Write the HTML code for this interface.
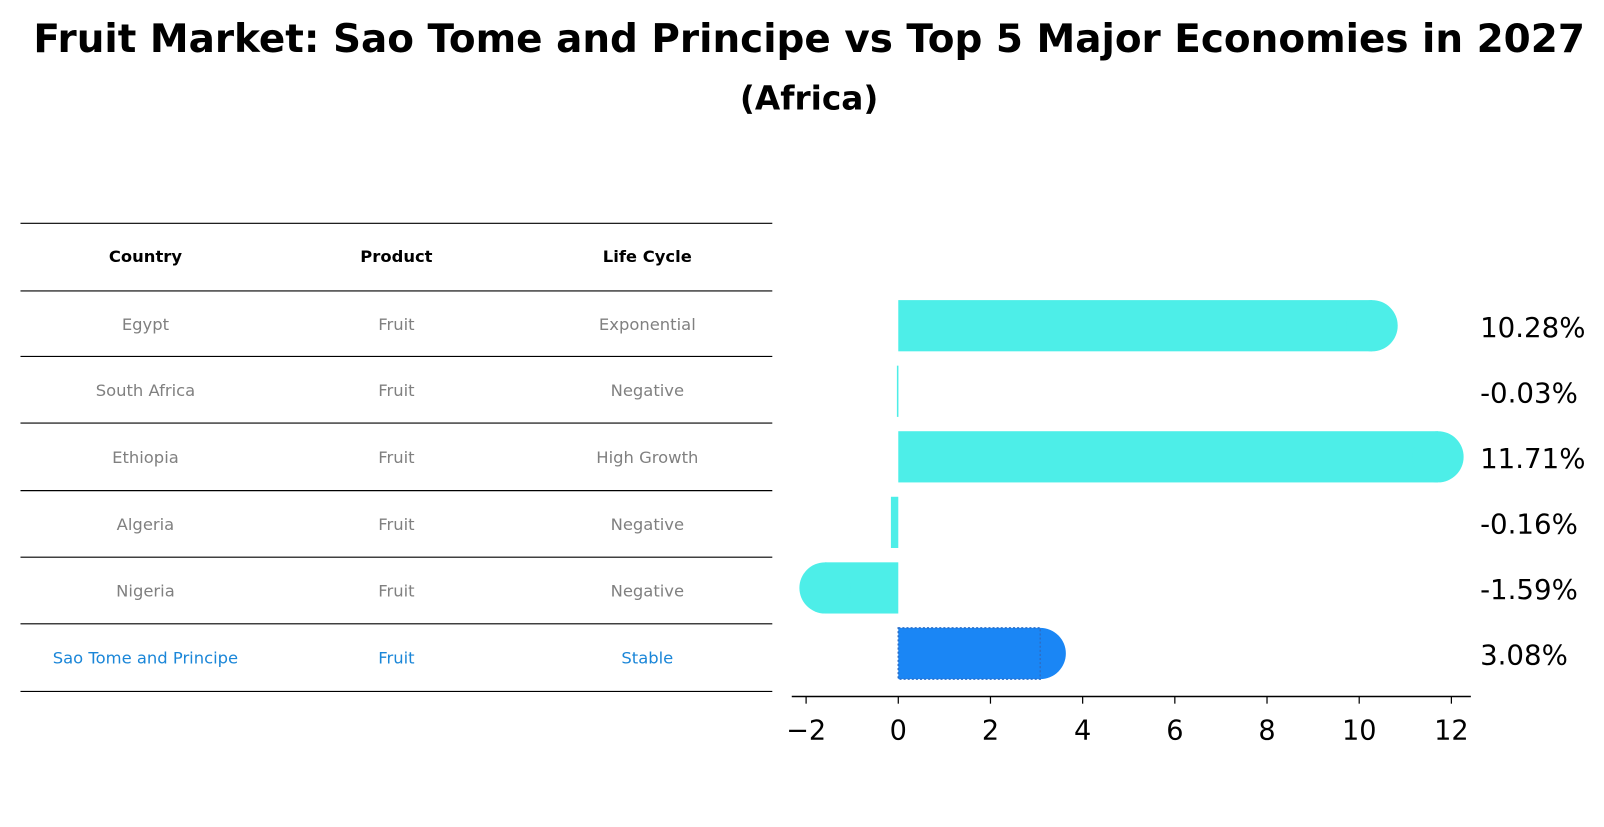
<!DOCTYPE html>
<html><head><meta charset="utf-8"><style>
body{margin:0;background:#fff;width:1604px;height:823px;overflow:hidden;font-family:"DejaVu Sans","Liberation Sans",sans-serif}
</style></head><body>
<svg width="1604" height="823" viewBox="0 0 1566 803.5" xmlns="http://www.w3.org/2000/svg" font-family="DejaVu Sans, Liberation Sans, sans-serif">
<text x="790" y="51" text-anchor="middle" font-size="38" font-weight="bold">Fruit Market: Sao Tome and Principe vs Top 5 Major Economies in 2027</text>
<text x="790" y="107" text-anchor="middle" font-size="32" font-weight="bold">(Africa)</text>
<g id="table"></g>
<g id="chart"></g>
</svg>
<script>
const countries=["Egypt","South Africa","Ethiopia","Algeria","Nigeria","Sao Tome and Principe"];
const products=["Fruit","Fruit","Fruit","Fruit","Fruit","Fruit"];
const lifeCycles=["Exponential","Negative","High Growth","Negative","Negative","Stable"];
const values=[10.28,-0.03,11.71,-0.16,-1.59,3.08];
const ticks=[-2,0,2,4,6,8,10,12];
const NS="http://www.w3.org/2000/svg";
function mk(tag,attrs,parent,text){const e=document.createElementNS(NS,tag);for(const k in attrs)e.setAttribute(k,attrs[k]);if(text!==undefined)e.textContent=text;parent.appendChild(e);return e;}
// table
const tg=document.getElementById('table');
const lines=[218,284,348,413,479,544,609,675];
lines.forEach(y=>{const l=mk('line',{x1:20,x2:754,y1:y,y2:y,stroke:'#000','stroke-width':1.1},tg);

});
const colX=[142,387,632];
["Country","Product","Life Cycle"].forEach((h,i)=>{const t=mk('text',{x:colX[i],y:256,'text-anchor':'middle','font-size':16,'font-weight':'bold'},tg,h);

});
countries.forEach((c,r)=>{const y=(lines[r+1]+lines[r+2])/2+6;const col=r===5?'#1a86d8':'#808080';
[c,products[r],lifeCycles[r]].forEach((v,i)=>{const t=mk('text',{x:colX[i],y:y,'text-anchor':'middle','font-size':16,fill:col},tg,v);

});});
// chart
const cg=document.getElementById('chart');
const x0=877,ppu=45;
const X=v=>x0+v*ppu;
const Y=i=>318+i*64;
const bh=50;
values.forEach((v,i)=>{const hl=i===5;const fill=hl?'#1a86f5':'#4deee8';
const g=mk('g',{},cg);


const xa=Math.min(X(0),X(v)),w=Math.abs(X(v)-X(0));
mk('rect',{x:xa,y:Y(i)-bh/2,width:Math.max(w,1.5),height:bh,fill:fill},g);
if(Math.abs(v)>1)mk('circle',{cx:X(v),cy:Y(i),r:bh/2,fill:fill},g);
if(hl)mk('rect',{x:xa,y:Y(i)-bh/2,width:w,height:bh,fill:'none',stroke:'#2b6fc9','stroke-width':1.5,'stroke-dasharray':'2,2'},g);
const t=mk('text',{x:1445,y:Y(i)+11,'font-size':27},cg,v.toFixed(2)+'%');

});
const ax=mk('line',{x1:773,x2:1436,y1:680,y2:680,stroke:'#000','stroke-width':1.5},cg);


ticks.forEach(t=>{mk('line',{x1:X(t),x2:X(t),y1:680,y2:687,stroke:'#000','stroke-width':1.2},cg);
const tx=mk('text',{x:X(t),y:722,'text-anchor':'middle','font-size':26.5},cg,t<0?'\u2212'+Math.abs(t):String(t));

});
</script>
</body></html>
